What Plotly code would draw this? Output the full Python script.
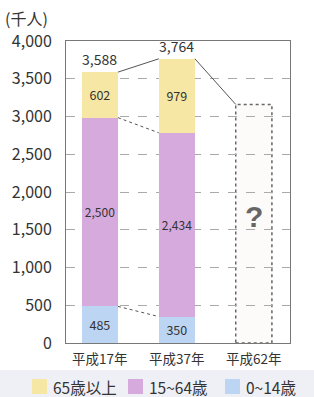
import plotly.graph_objects as go

categories = ["平成17年", "平成37年", "平成62年"]
age_0_14 = [485, 350]
age_15_64 = [2500, 2434]
age_65_plus = [602, 979]
totals = [3588, 3764]
future_total = 3160          # 平成62年: unknown (dotted outline bar)
future_label = "?"
series_names = ["65歳以上", "15~64歳", "0~14歳"]
y_ticks = [0, 500, 1000, 1500, 2000, 2500, 3000, 3500, 4000]

FONT = "Noto Sans CJK JP"
C_YEL = "#F7E7A4"
C_PUR = "#D6AADD"
C_BLU = "#BCD5F2"
W = 0.47

FW, FH = 314, 397
ML, MR, MT, MB = 66, 24, 41, 54
PW, PH = FW - ML - MR, FH - MT - MB

def px(x):
    return (x - ML) / PW

def py(y):
    return (FH - MB - y) / PH

xs = list(range(len(totals)))
fig = go.Figure()

def bar(vals, name, color):
    return go.Bar(x=xs, y=vals, name=name, marker=dict(color=color, line=dict(width=0)),
                  text=[f"{v:,}" for v in vals], textposition="inside", insidetextanchor="middle",
                  textangle=0, textfont=dict(size=12.5, color="#333"), width=W, showlegend=False)

fig.add_trace(bar(age_0_14, series_names[2], C_BLU))
fig.add_trace(bar(age_15_64, series_names[1], C_PUR))
fig.add_trace(bar(age_65_plus, series_names[0], C_YEL))

# future dotted bar
fx = len(totals)
fig.add_shape(type="rect", xref="x", yref="y", x0=fx - W / 2, x1=fx + W / 2, y0=0, y1=future_total,
              line=dict(color="#666", width=1.5, dash="dot"), fillcolor="#FDFAFA", layer="below")
fig.add_annotation(x=fx, y=future_total * 0.53, xref="x", yref="y", text=f"<b>{future_label}</b>",
                   showarrow=False, font=dict(size=30, color="#666", family="Arial"))

# connector lines
tops = totals + [future_total]
for i in range(len(tops) - 1):
    fig.add_trace(go.Scatter(x=[i + W / 2, i + 1 - W / 2], y=[tops[i], tops[i + 1]], mode="lines",
                             line=dict(color="#555", width=1), showlegend=False, hoverinfo="skip"))
mid_tops = [a + b for a, b in zip(age_0_14, age_15_64)]
for series in (mid_tops, age_0_14):
    fig.add_trace(go.Scatter(x=[W / 2, 1 - W / 2], y=series, mode="lines",
                             line=dict(color="#555", width=1, dash="dot"), showlegend=False, hoverinfo="skip"))

# total labels
for i, t in enumerate(totals):
    fig.add_annotation(x=i, y=t, xref="x", yref="y", text=f"{t:,}", showarrow=False, yanchor="bottom",
                       yshift=1, font=dict(size=14, color="#333", family=FONT))

# y-axis unit
fig.add_annotation(x=px(3), y=py(18), xref="paper", yref="paper", text="(千人)",
                   showarrow=False, xanchor="left", yanchor="middle",
                   font=dict(size=16, color="#333", family=FONT))

# legend background band
fig.add_shape(type="rect", xref="paper", yref="paper", x0=px(0), x1=px(FW), y0=py(370), y1=py(FH),
              fillcolor="#EEF0F5", line=dict(width=0), layer="below")

# manual legend
legend_items = [(series_names[0], C_YEL, 32), (series_names[1], C_PUR, 128), (series_names[2], C_BLU, 225)]
for name, color, x0 in legend_items:
    fig.add_shape(type="rect", xref="paper", yref="paper", x0=px(x0), x1=px(x0 + 15),
                  y0=py(379), y1=py(394), fillcolor=color, line=dict(width=0))
    fig.add_annotation(x=px(x0 + 19), y=py(387), xref="paper", yref="paper", text=name,
                       showarrow=False, xanchor="left", yanchor="middle",
                       font=dict(size=15.5, color="#333", family=FONT))

fig.update_layout(
    width=FW, height=FH,
    margin=dict(l=ML, r=MR, t=MT, b=MB),
    barmode="stack",
    paper_bgcolor="white", plot_bgcolor="white",
    font=dict(family=FONT, size=13, color="#333"),
    showlegend=False,
    xaxis=dict(range=[-0.44, 2.47], tickmode="array", tickvals=list(range(len(categories))),
               ticktext=categories, showgrid=False, showline=True, linecolor="#777", mirror=True,
               zeroline=False, ticks="", ticklabelstandoff=4, tickfont=dict(size=13.5, color="#333")),
    yaxis=dict(range=[0, 4000], tickmode="array", tickvals=y_ticks, tickformat=",d",
               showgrid=True, gridcolor="#AAAAAA", griddash="dash", gridwidth=1,
               showline=True, linecolor="#777", mirror=True, zeroline=False, ticks="",
               ticklabelstandoff=10, tickfont=dict(size=16, color="#333")),
)

fig.write_html("out.html", config={"displayModeBar": False},
               post_script="document.body.style.margin='0';document.body.style.overflow='hidden';")
